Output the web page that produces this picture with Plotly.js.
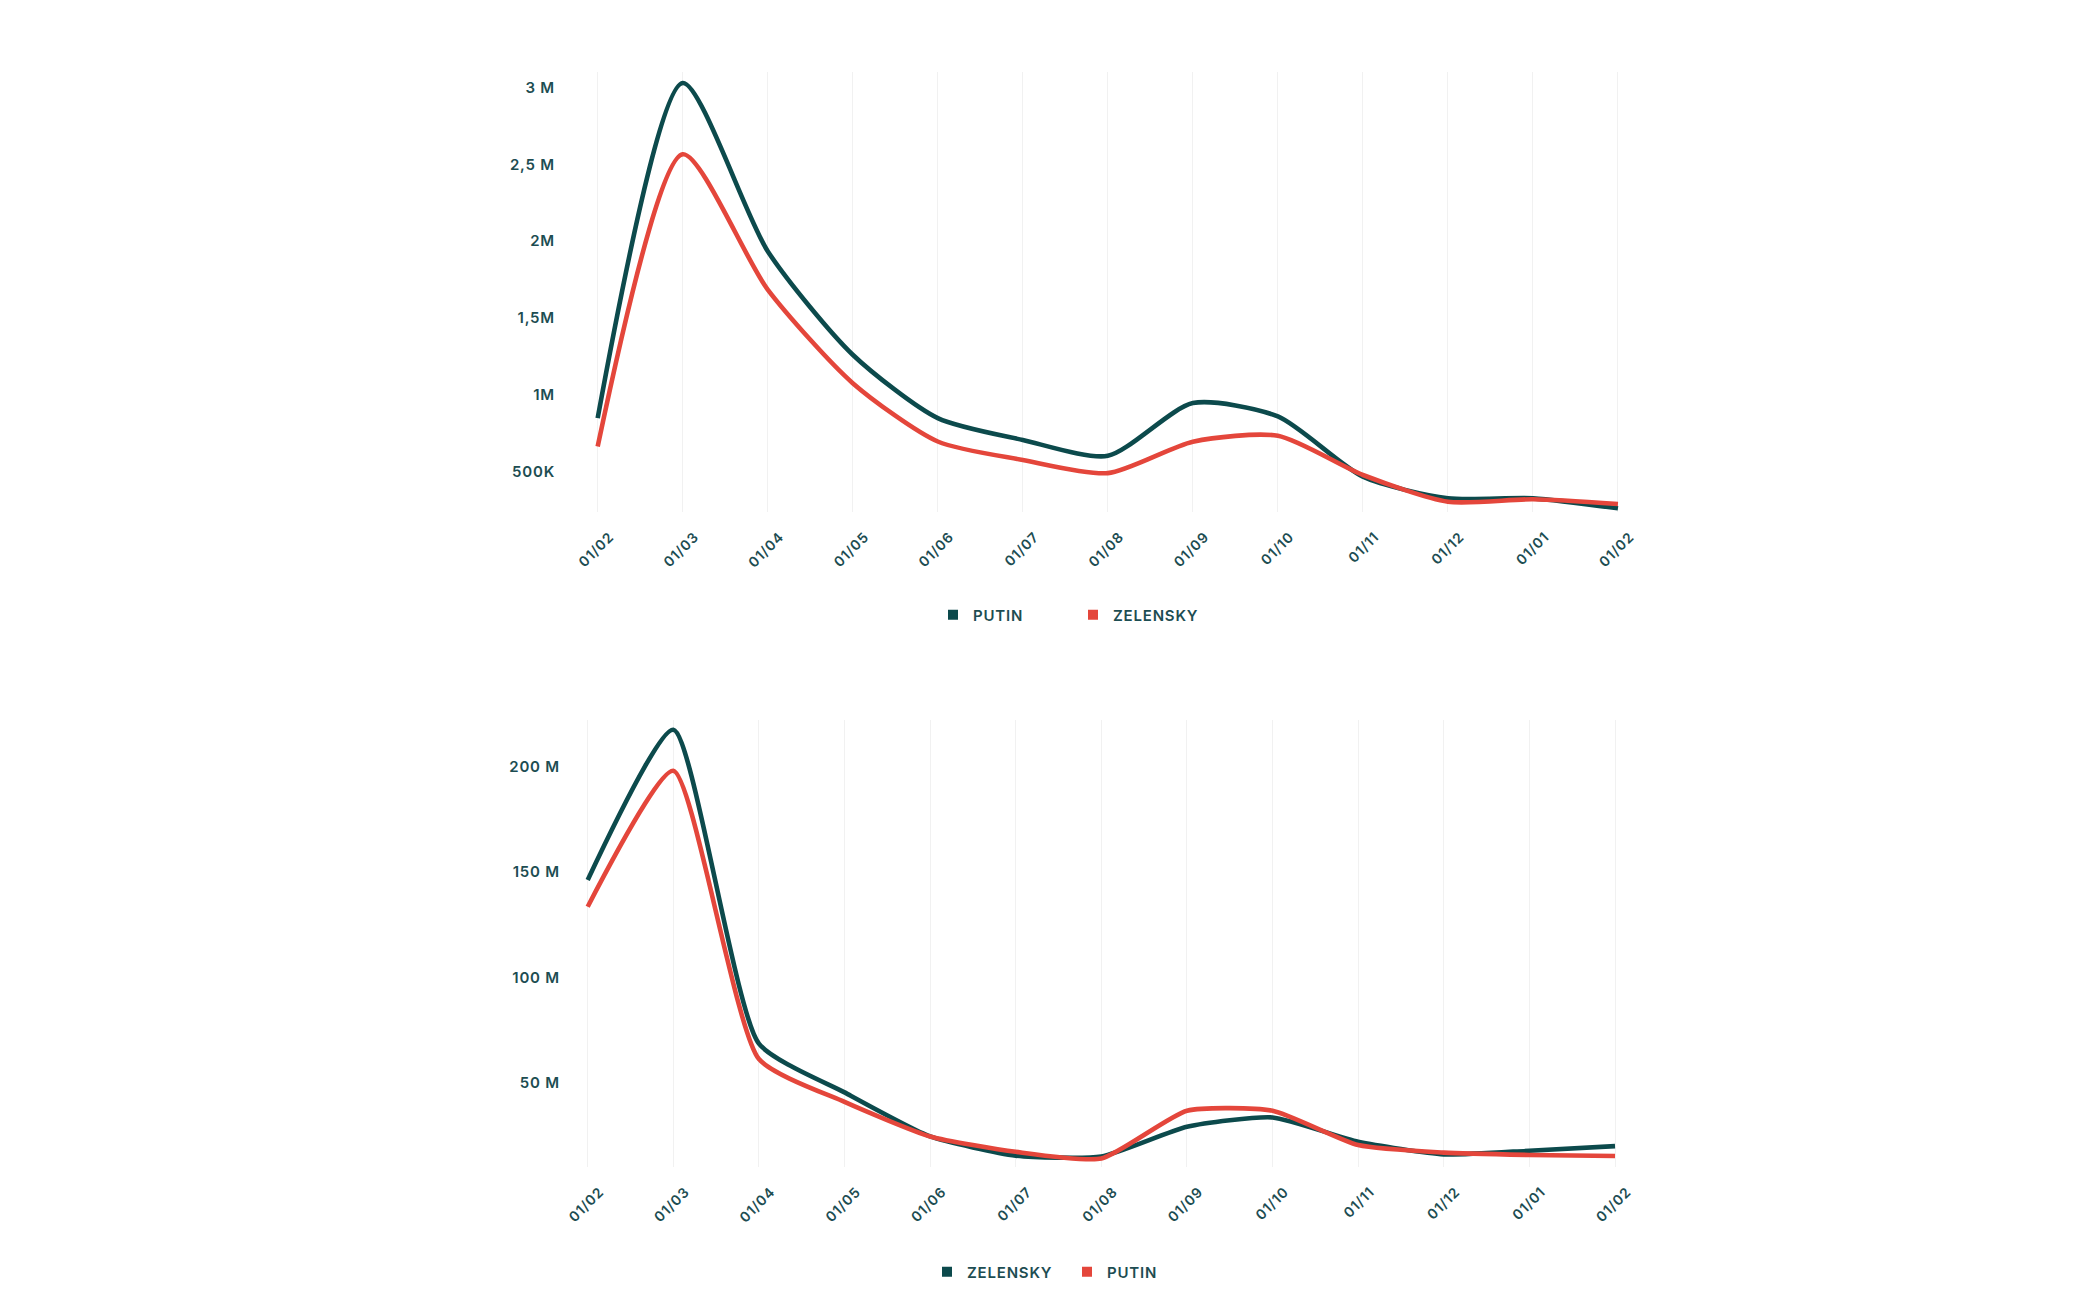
<!DOCTYPE html>
<html>
<head>
<meta charset="utf-8">
<script src="https://cdn.plot.ly/plotly-3.0.1.min.js"></script>
<style>
  html, body { margin: 0; padding: 0; background: #ffffff; }
  #chart { width: 2080px; height: 1302px; }
  #chart text { letter-spacing: 0.8px; }
</style>
</head>
<body>
<div id="chart"></div>
<script>
// ---- Data ----
const monthIndex = [0, 1, 2, 3, 4, 5, 6, 7, 8, 9, 10, 11, 12];
const monthLabels = ["01/02", "01/03", "01/04", "01/05", "01/06", "01/07", "01/08",
                     "01/09", "01/10", "01/11", "01/12", "01/01", "01/02"];

// Top chart
const topPutin    = [848000, 3030000, 1935000, 1261000, 848000, 706000, 603000,
                     946000, 859000, 467000, 326000, 326000, 261000];
const topZelensky = [663000, 2566000, 1685000, 1076000, 696000, 576000, 490000,
                     695000, 733000, 478000, 304000, 320000, 289000];
const topTickVals = [500000, 1000000, 1500000, 2000000, 2500000, 3000000];
const topTickText = ["500K", "1M", "1,5M", "2M", "2,5 M", "3 M"];

// Bottom chart
const botZelensky = [146200000, 217500000, 68500000, 45400000, 24500000, 15400000, 15000000,
                     29100000, 33500000, 22000000, 16000000, 17700000, 19900000];
const botPutin    = [133500000, 198000000, 61200000, 40900000, 24500000, 17200000, 14000000,
                     36700000, 36700000, 20400000, 16800000, 15700000, 15200000];
const botTickVals = [50000000, 100000000, 150000000, 200000000];
const botTickText = ["50 M", "100 M", "150 M", "200 M"];

// ---- Style ----
const DARK = "#0c4a4c";
const RED = "#e4463b";
const TEXT = "#1d4d52";
const GRID = "#f1f1f1";
const FONT = "Inter, 'Open Sans', sans-serif";
const W = 2080, H = 1302;
const px = v => v / W;
const py = v => 1 - v / H;

const lineTrace = (y, color, xa, ya, sm) => ({
  type: "scatter", mode: "lines", x: monthIndex, y: y,
  xaxis: xa, yaxis: ya, showlegend: false, hoverinfo: "skip",
  line: { color: color, width: 4.6, shape: "spline", smoothing: sm }
});
const legendTrace = (name, color, legend) => ({
  type: "scatter", mode: "markers", x: [null], y: [null],
  name: name, legend: legend, showlegend: true,
  marker: { symbol: "square", size: 10, color: color }
});

const data = [
  lineTrace(topPutin, DARK, "x", "y", 0.7),
  lineTrace(topZelensky, RED, "x", "y", 0.7),
  lineTrace(botZelensky, DARK, "x2", "y2", 0.55),
  lineTrace(botPutin, RED, "x2", "y2", 0.55),
  legendTrace("PUTIN", DARK, "legend"),
  legendTrace("ZELENSKY", RED, "legend"),
  legendTrace("ZELENSKY", DARK, "legend2"),
  legendTrace("PUTIN", RED, "legend2")
];

const xAxisBase = {
  tickmode: "array", tickvals: monthIndex, ticktext: monthLabels,
  tickangle: -45, ticks: "", showgrid: true, gridcolor: GRID, gridwidth: 1,
  zeroline: false, showline: false, fixedrange: true,
  tickfont: { family: FONT, size: 14, color: TEXT, weight: 600 },
  ticklabelstandoff: 13, ticklabelshift: 12
};
const yAxisBase = {
  tickmode: "array", ticks: "", showgrid: false, zeroline: false, showline: false,
  fixedrange: true,
  tickfont: { family: FONT, size: 15, color: TEXT, weight: 600 },
  ticklabelstandoff: 4
};

const legendBase = {
  orientation: "h", xanchor: "left", yanchor: "middle",
  entrywidth: 95, entrywidthmode: "pixels",
  font: { family: FONT, size: 15, color: TEXT, weight: 600 },
  bgcolor: "rgba(0,0,0,0)", borderwidth: 0, itemclick: false, itemdoubleclick: false
};

const layout = {
  width: W, height: H,
  margin: { l: 0, r: 0, t: 0, b: 0 },
  paper_bgcolor: "#ffffff", plot_bgcolor: "#ffffff",
  showlegend: true,
  xaxis: Object.assign({}, xAxisBase, {
    domain: [px(560), px(1632)], range: [-0.443, 12.165], anchor: "y"
  }),
  yaxis: Object.assign({}, yAxisBase, {
    domain: [py(512), py(72)], range: [237000, 3102000],
    tickvals: topTickVals, ticktext: topTickText, anchor: "x"
  }),
  xaxis2: Object.assign({}, xAxisBase, {
    domain: [px(565), px(1630)], range: [-0.265, 12.175], anchor: "y2"
  }),
  yaxis2: Object.assign({}, yAxisBase, {
    domain: [py(1167), py(720)], range: [10000000, 222100000],
    tickvals: botTickVals, ticktext: botTickText, anchor: "x2"
  }),
  legend: Object.assign({}, legendBase, { x: px(933), y: py(615) }),
  legend2: Object.assign({}, legendBase, { x: px(927), y: py(1272) })
};

Plotly.newPlot("chart", data, layout, { displayModeBar: false, staticPlot: true });
</script>
</body>
</html>
